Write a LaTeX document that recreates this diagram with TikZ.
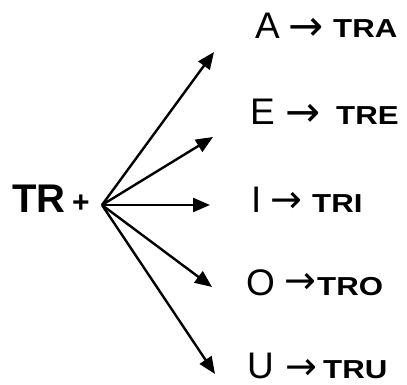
\documentclass[tikz,border=0pt]{standalone}
\usepackage{fontspec}
\usepackage{graphicx}
\setmainfont{Liberation Sans}
\newfontfamily\arrowfont{DejaVu Sans}
\usetikzlibrary{arrows.meta}
\newcommand{\wide}[1]{\scalebox{1.2}[1]{#1}}
\begin{document}
\begin{tikzpicture}[x=1pt,y=-1pt,
  vowel/.style={anchor=base west,inner sep=0pt,font=\fontsize{37}{40}\selectfont},
  arr/.style={anchor=base west,inner sep=0pt,font=\arrowfont\fontsize{42}{46}\selectfont},
  arrs/.style={anchor=base west,inner sep=0pt,font=\arrowfont\fontsize{38}{42}\selectfont},
  res/.style={anchor=base west,inner sep=0pt,font=\bfseries\fontsize{26}{30}\selectfont},
  conn/.style={line width=2.4pt,-{Triangle[length=17pt,width=14pt]}}]
\useasboundingbox (0,0) rectangle (407,385);
\node[anchor=base west,inner sep=0pt,font=\bfseries\fontsize{40}{44}\selectfont] (tr) at (12,212) {TR};
\node[anchor=base west,inner sep=0pt,font=\bfseries\fontsize{30}{34}\selectfont] (plus) at (72,212) {+};
\coordinate (o) at (102,205);
\coordinate (ta) at (214,52);
\coordinate (te) at (213,137);
\coordinate (ti) at (210,205);
\coordinate (to) at (212,287);
\coordinate (tu) at (215,374);
\foreach \t in {ta,te,ti,to,tu} \draw[conn] (o) -- (\t);
% A
\node[vowel] (va) at (255,39) {A};
\node[arr] (aa) at (288,41) {→};
\node[res] (ra) at (333,38) {\wide{TRA}};
% E
\node[vowel] (ve) at (250,125) {E};
\node[arr] (ae) at (285,127) {→};
\node[res] (re) at (336,125) {\wide{TRE}};
% I
\node[vowel] (vi) at (251,212) {I};
\node[arrs] (ai) at (270,212) {→};
\node[res] (ri) at (312,212) {\wide{TRI}};
% O
\node[vowel] (vo) at (246,295) {O};
\node[arrs] (ao) at (284,293) {→};
\node[res] (ro) at (317,295) {\wide{TRO}};
% U
\node[vowel] (vu) at (247,378) {U};
\node[arrs] (au) at (285,379) {→};
\node[res] (ru) at (323,378) {\wide{TRU}};
\end{tikzpicture}
\end{document}
